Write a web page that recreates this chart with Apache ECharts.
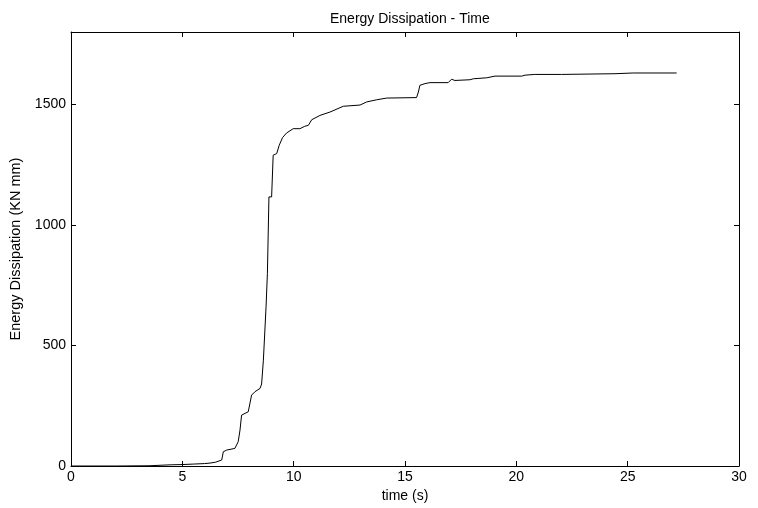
<!DOCTYPE html>
<html>
<head>
<meta charset="utf-8">
<script src="https://cdn.jsdelivr.net/npm/echarts@6/dist/echarts.min.js"></script>
<style>html,body{margin:0;padding:0;background:#fff;}#c{width:758px;height:508px;}</style>
</head>
<body>
<div id="c"></div>
<script>
const titleText = "Energy Dissipation - Time";
const xName = "time (s)";
const yName = "Energy Dissipation (KN mm)";
const time = [0, 2, 3.5, 4, 4.5, 5, 5.5, 6, 6.24, 6.5, 6.77, 6.84, 6.99, 7.36, 7.51, 7.59, 7.66, 7.74, 7.96, 8.11, 8.26, 8.49, 8.56, 8.64, 8.76, 8.82, 8.89, 9.01, 9.08, 9.24, 9.35, 9.5, 9.68, 9.98, 10.28, 10.5, 10.66, 10.81, 11.18, 11.63, 11.71, 12.23, 12.98, 13.28, 13.73, 14.18, 15.52, 15.6, 15.67, 15.9, 16.12, 16.94, 17.09, 17.24, 17.92, 18.07, 18.67, 19.04, 20.24, 20.39, 20.83, 22.03, 22.1, 24.43, 25.25, 27.2];
const energy = [0, 0, 1, 3, 5, 6, 8, 10, 12, 16, 25, 59, 66, 73, 101, 149, 211, 218, 225, 294, 308, 322, 340, 439, 660, 798, 1116, 1116, 1289, 1296, 1330, 1362, 1381, 1399, 1399, 1409, 1413, 1436, 1454, 1468, 1475, 1492, 1497, 1510, 1519, 1526, 1528, 1551, 1579, 1586, 1590, 1590, 1604, 1599, 1602, 1606, 1610, 1617, 1617, 1621, 1624, 1624, 1627, 1627, 1630, 1630];
const xTicks = [0, 5, 10, 15, 20, 25, 30];
const yTicks = [0, 500, 1000, 1500];

const font = "Liberation Sans, Arial, Helvetica, sans-serif";
const data = time.map((t, i) => [t, energy[i]]);
const axLine = {show: true, onZero: false, lineStyle: {color: '#000', width: 1}};
const tick = {show: true, inside: true, length: 5, lineStyle: {color: '#000'}};
const xBase = {type: 'value', min: xTicks[0], max: xTicks[xTicks.length - 1], interval: 5,
  axisLine: axLine, axisTick: tick, splitLine: {show: false}};
const yBase = {type: 'value', min: 0, max: 1800, interval: 500,
  axisLine: axLine, axisTick: tick, splitLine: {show: false}};

const chart = echarts.init(document.getElementById('c'), null, {renderer: 'canvas'});
chart.setOption({
  animation: false,
  backgroundColor: '#fff',
  title: {text: titleText, left: 325, top: 7,
    textStyle: {fontFamily: font, fontSize: 14, fontWeight: 'normal', color: '#000'}},
  grid: {left: 71, right: 19, top: 32, bottom: 42},
  xAxis: [
    Object.assign({}, xBase, {position: 'bottom', name: xName, nameLocation: 'middle', nameGap: 19,
      nameTextStyle: {fontFamily: font, fontSize: 14, color: '#000'},
      axisLabel: {show: true, margin: 4, fontFamily: font, fontSize: 14, color: '#000'}}),
    Object.assign({}, xBase, {position: 'top', axisLabel: {show: false}})
  ],
  yAxis: [
    Object.assign({}, yBase, {position: 'left', name: yName, nameLocation: 'middle', nameGap: 43,
      nameTextStyle: {fontFamily: font, fontSize: 14.5, color: '#000'},
      axisLabel: {show: true, margin: 5, fontFamily: font, fontSize: 14, color: '#000', showMaxLabel: false,
        formatter: v => (yTicks.indexOf(v) >= 0 ? String(v) : '')}}),
    Object.assign({}, yBase, {position: 'right', axisLabel: {show: false}})
  ],
  series: [{
    type: 'line', data: data, xAxisIndex: 0, yAxisIndex: 0,
    showSymbol: false, symbol: 'none', smooth: false,
    lineStyle: {color: '#000', width: 1}
  }]
});
</script>
</body>
</html>
